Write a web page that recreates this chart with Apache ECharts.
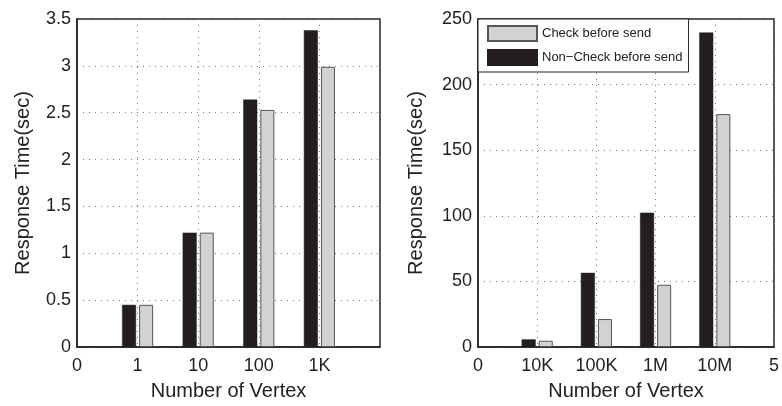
<!DOCTYPE html>
<html>
<head>
<meta charset="utf-8">
<script src="https://cdn.jsdelivr.net/npm/echarts@6/dist/echarts.min.js"></script>
<style>
  html, body { margin: 0; padding: 0; background: #fff; }
  #chart { width: 782px; height: 406px; }
</style>
</head>
<body>
<div id="chart"></div>
<script>
// Response time vs. number of vertices, small and large graph sizes
const smallLabels = ['0', '1', '10', '100', '1K', ''];
const largeLabels = ['0', '10K', '100K', '1M', '10M', '5'];

const smallNonCheck = [0.45, 1.22, 2.64, 3.38];
const smallCheck = [0.45, 1.22, 2.53, 2.99];
const largeNonCheck = [5.8, 56.5, 102.4, 239.7];
const largeCheck = [4.8, 21.3, 47.4, 177.5];

const seriesNames = ['Check before send', 'Non\u2212Check before send'];

const FONT = 'Liberation Sans, Arial, Helvetica, sans-serif';
const BLACK = '#231f20';
const GRAY = '#d1d2d4';

// bars sit at integer positions 1..4 on a 0..5 value axis
const toPoints = vals => vals.map((v, i) => [i + 1, v]);

function xAxisFor(gridIndex, labels) {
  return {
    type: 'value', gridIndex, min: 0, max: 5, interval: 1,
    name: 'Number of Vertex', nameLocation: 'middle', nameGap: 34,
    nameTextStyle: { fontFamily: FONT, fontSize: 20, color: '#222' },
    axisLine: { show: true, onZero: false, lineStyle: { color: '#222', width: 1.5 } },
    axisTick: { show: false },
    axisLabel: {
      fontFamily: FONT, fontSize: 18, color: '#222', margin: 10,
      formatter: v => labels[v] !== undefined ? labels[v] : ''
    },
    splitLine: { show: true, lineStyle: { color: '#777', type: [1, 5], width: 1 } }
  };
}

function yAxisFor(gridIndex, max, interval, gap) {
  return {
    type: 'value', gridIndex, min: 0, max, interval,
    name: 'Response Time(sec)', nameLocation: 'middle', nameGap: gap,
    nameTextStyle: { fontFamily: FONT, fontSize: 20, color: '#222' },
    axisLine: { show: true, lineStyle: { color: '#222', width: 1.5 } },
    axisTick: { show: false },
    axisLabel: { fontFamily: FONT, fontSize: 18, color: '#222', margin: 6 },
    splitLine: { show: true, lineStyle: { color: '#777', type: [1, 5], width: 1 } }
  };
}

function barPair(axisIndex, nonCheck, check) {
  return [
    {
      name: seriesNames[1], type: 'bar', xAxisIndex: axisIndex, yAxisIndex: axisIndex,
      data: toPoints(nonCheck), barWidth: 14, barGap: '22%',
      itemStyle: { color: BLACK, borderColor: BLACK, borderWidth: 0.5 },
      emphasis: { disabled: true }
    },
    {
      name: seriesNames[0], type: 'bar', xAxisIndex: axisIndex, yAxisIndex: axisIndex,
      data: toPoints(check), barWidth: 14, barGap: '22%',
      itemStyle: { color: GRAY, borderColor: '#555', borderWidth: 1 },
      emphasis: { disabled: true }
    }
  ];
}

const chart = echarts.init(document.getElementById('chart'), null, { renderer: 'canvas' });
chart.setOption({
  animation: false,
  backgroundColor: '#fff',
  grid: [
    { left: 77, right: 402, top: 19, bottom: 55, show: true, borderColor: '#222', borderWidth: 1.5, backgroundColor: 'transparent' },
    { left: 478, right: 5, top: 19, bottom: 55, show: true, borderColor: '#222', borderWidth: 1.5, backgroundColor: 'transparent' }
  ],
  legend: {
    data: [
      { name: seriesNames[0], icon: 'rect' },
      { name: seriesNames[1], icon: 'rect' }
    ],
    orient: 'vertical', left: 478, top: 19,
    padding: [6, 6, 6, 9], itemGap: 7,
    itemWidth: 49, itemHeight: 15,
    backgroundColor: '#fff', borderColor: '#222', borderWidth: 1,
    textStyle: { fontFamily: FONT, fontSize: 13, color: '#222' },
    selectedMode: false
  },
  xAxis: [xAxisFor(0, smallLabels), xAxisFor(1, largeLabels)],
  yAxis: [yAxisFor(0, 3.5, 0.5, 44), yAxisFor(1, 250, 50, 52)],
  series: [...barPair(0, smallNonCheck, smallCheck), ...barPair(1, largeNonCheck, largeCheck)]
});
</script>
</body>
</html>
